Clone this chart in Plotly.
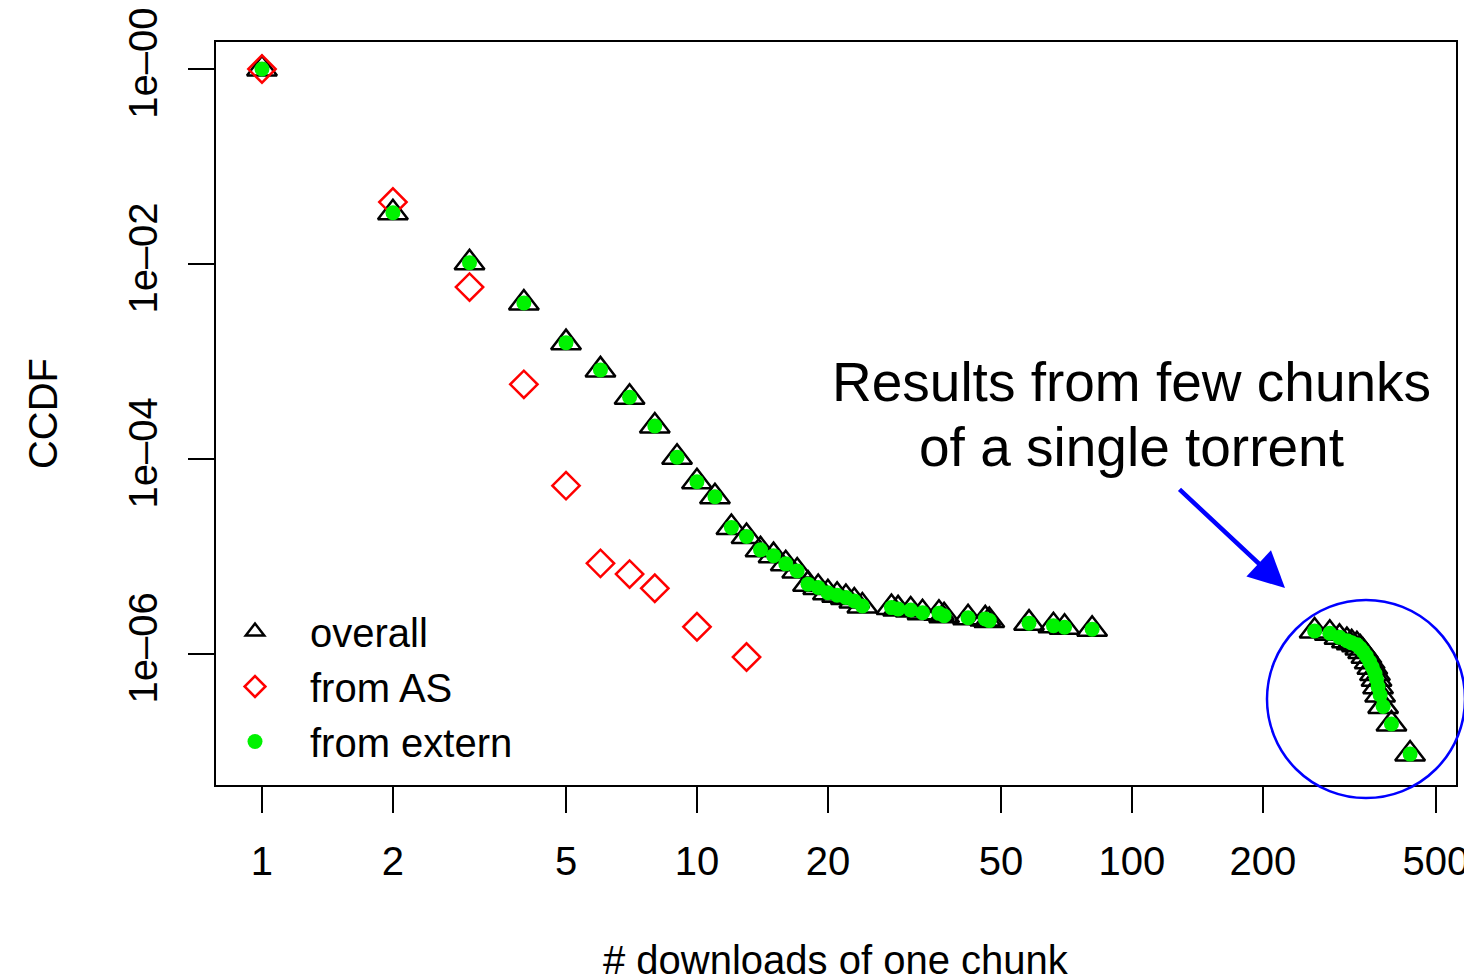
import plotly.graph_objects as go

# ---- data ----
overall_x = [1, 2, 3, 4, 5, 6, 7, 8, 9, 10, 11, 12, 13, 14, 15, 16, 17, 18, 19, 20,
             21, 22, 23, 24, 28, 29, 31, 33, 36, 37, 42, 46, 47, 58, 66, 70, 81,
             263, 285, 300, 312, 320, 329, 335, 340, 346, 352, 357, 362, 365, 368,
             372, 378, 395, 436]
overall_y = [1.0, 3.36e-2, 1.03e-2, 3.98e-3, 1.56e-3, 8.2e-4, 4.3e-4, 2.18e-4, 1.04e-4,
             5.85e-5, 4.1e-5, 1.98e-5, 1.6e-5, 1.17e-5, 1.02e-5, 8.4e-6, 7.1e-6, 5.2e-6,
             4.8e-6, 4.25e-6, 4.0e-6, 3.8e-6, 3.5e-6, 3.1e-6, 2.99e-6, 2.9e-6, 2.82e-6,
             2.65e-6, 2.61e-6, 2.47e-6, 2.35e-6, 2.29e-6, 2.2e-6, 2.07e-6, 1.95e-6,
             1.88e-6, 1.79e-6,
             1.72e-6, 1.63e-6, 1.48e-6, 1.37e-6, 1.30e-6, 1.24e-6, 1.15e-6, 1.06e-6,
             9.5e-7, 8.3e-7, 7.3e-7, 6.3e-7, 5.5e-7, 4.6e-7, 3.8e-7, 2.9e-7, 1.91e-7,
             9.4e-8]

as_x = [1, 2, 3, 4, 5, 6, 7, 8, 10, 13]
as_y = [1.0, 4.32e-2, 5.8e-3, 5.83e-4, 5.32e-5, 8.5e-6, 6.6e-6, 4.72e-6, 1.9e-6, 9.3e-7]

extern_x = [1, 2, 3, 4, 5, 6, 7, 8, 9, 10, 11, 12, 13, 14, 15, 16, 17, 18, 19, 20,
            21, 22, 23, 24, 28, 29, 31, 33, 36, 37, 42, 46, 47, 58, 66, 70, 81,
            263, 285, 300, 312, 320, 329, 335, 340, 346, 352, 357, 362, 365, 368,
            372, 378, 395, 436]
extern_y = [1.0, 3.36e-2, 1.03e-2, 3.98e-3, 1.56e-3, 8.2e-4, 4.3e-4, 2.18e-4, 1.04e-4,
            5.85e-5, 4.1e-5, 1.98e-5, 1.6e-5, 1.17e-5, 1.02e-5, 8.4e-6, 7.1e-6, 5.2e-6,
            4.8e-6, 4.25e-6, 4.0e-6, 3.8e-6, 3.5e-6, 3.1e-6, 2.99e-6, 2.9e-6, 2.82e-6,
            2.65e-6, 2.61e-6, 2.47e-6, 2.35e-6, 2.29e-6, 2.2e-6, 2.07e-6, 1.95e-6,
            1.88e-6, 1.79e-6,
            1.72e-6, 1.63e-6, 1.48e-6, 1.37e-6, 1.30e-6, 1.24e-6, 1.15e-6, 1.06e-6,
            9.5e-7, 8.3e-7, 7.3e-7, 6.3e-7, 5.5e-7, 4.6e-7, 3.8e-7, 2.9e-7, 1.91e-7,
            9.4e-8]

x_tickvals = [1, 2, 5, 10, 20, 50, 100, 200, 500]
x_ticktext = ["1", "2", "5", "10", "20", "50", "100", "200", "500"]
y_tickvals = [1, 1e-2, 1e-4, 1e-6]
y_ticktext = ["1e\u201300", "1e\u201302", "1e\u201304", "1e\u201306"]

FONT = "Liberation Sans, Arial, Helvetica, sans-serif"

fig = go.Figure()
fig.add_trace(go.Scatter(
    x=overall_x, y=overall_y, mode="markers", name="overall",
    marker=dict(symbol="triangle-up-open", size=26, color="black",
                line=dict(color="black", width=2.5))))
fig.add_trace(go.Scatter(
    x=as_x, y=as_y, mode="markers", name="from AS",
    marker=dict(symbol="diamond-open", size=21, color="#ff0000",
                line=dict(color="#ff0000", width=2.5))))
fig.add_trace(go.Scatter(
    x=extern_x, y=extern_y, mode="markers", name="from extern",
    marker=dict(symbol="circle", size=15, color="#00f200", line=dict(width=0))))

W, H = 1464, 974
L, R, T, B = 216, 8, 42, 189
pw, ph = W - L - R, H - T - B


def px_x(p):
    return (p - L) / pw


def px_y(p):
    return (H - B - p) / ph


fig.update_layout(
    width=W, height=H,
    margin=dict(l=L, r=R, t=T, b=B, autoexpand=False),
    paper_bgcolor="white", plot_bgcolor="white",
    font=dict(family=FONT, size=40, color="black"),
    showlegend=True,
    legend=dict(x=px_x(200), y=px_y(599), xanchor="left", yanchor="top",
                bgcolor="rgba(0,0,0,0)", borderwidth=0,
                font=dict(size=40), itemwidth=100, tracegroupgap=0),
    xaxis=dict(type="log", range=[-0.1057, 2.745],
               tickvals=x_tickvals, ticktext=x_ticktext,
               ticks="outside", ticklen=26, tickwidth=1.5, tickcolor="black",
               showline=True, linewidth=2, linecolor="black", mirror=True,
               showgrid=False, zeroline=False,
               ticklabelstandoff=14, ticklabeloverflow="allow",
               tickfont=dict(size=40)),
    yaxis=dict(type="log", range=[-7.344, 0.277],
               tickvals=y_tickvals, ticktext=y_ticktext, tickangle=-90,
               ticks="outside", ticklen=26, tickwidth=1.5, tickcolor="black",
               showline=True, linewidth=2, linecolor="black", mirror=True,
               showgrid=False, zeroline=False,
               ticklabelstandoff=15,
               tickfont=dict(size=40),
               title=dict(text="CCDF", font=dict(size=40), standoff=51)),
)

# x axis title (placed low, partially cut by the bottom edge as in the original)
fig.add_annotation(x=px_x(836), y=px_y(960), xref="paper", yref="paper",
                   text="# downloads of one chunk", showarrow=False,
                   font=dict(size=40), xanchor="center", yanchor="middle")

# annotation text
fig.add_annotation(x=px_x(1131), y=px_y(382), xref="paper", yref="paper",
                   text="Results from few chunks", showarrow=False,
                   font=dict(size=55), xanchor="center", yanchor="middle")
fig.add_annotation(x=px_x(1131), y=px_y(447), xref="paper", yref="paper",
                   text="of a single torrent", showarrow=False,
                   font=dict(size=55), xanchor="center", yanchor="middle")

# arrow
fig.add_annotation(x=px_x(1285), y=px_y(588), xref="paper", yref="paper",
                   ax=1178 - 1285, ay=488 - 588, axref="pixel", ayref="pixel",
                   text="", showarrow=True, arrowhead=2, arrowsize=1.6,
                   arrowwidth=4.5, arrowcolor="#0000ff", standoff=0)

# circle around the tail
fig.add_shape(type="circle", xref="paper", yref="paper",
              x0=px_x(1267), x1=px_x(1465), y0=px_y(798), y1=px_y(600),
              line=dict(color="#0000ff", width=2.5))

fig.write_html("out.html", config={"displayModeBar": False},
               post_script="document.body.style.margin='0';document.body.style.overflow='hidden';")
